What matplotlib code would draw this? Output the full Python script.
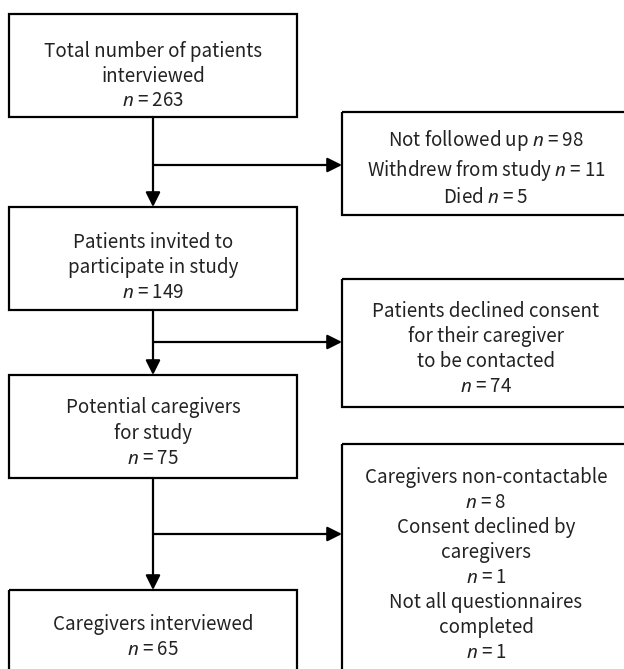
import matplotlib.pyplot as plt
from matplotlib.patches import Rectangle

plt.rcParams['font.family'] = ['Noto Sans CJK KR', 'DejaVu Sans']
plt.rcParams['mathtext.fontset'] = 'custom'
plt.rcParams['mathtext.it'] = 'Noto Sans:italic'
plt.rcParams['mathtext.rm'] = 'Noto Sans CJK KR'

# flow stages and their counts
stage_labels = ["Total number of patients\ninterviewed",
                "Patients invited to\nparticipate in study",
                "Potential caregivers\nfor study",
                "Caregivers interviewed"]
stage_n = [263, 149, 75, 65]

# exclusions between stages
excl_reasons = [
    ["Not followed up", "Withdrew from study", "Died"],
    ["Patients declined consent\nfor their caregiver\nto be contacted"],
    ["Caregivers non-contactable", "Consent declined by\ncaregivers",
     "Not all questionnaires\ncompleted"],
]
excl_n = [[98, 11, 5], [74], [8, 1, 1]]
excl_inline = [True, False, False]


def n_str(v):
    return r"$n$ = " + str(v)


fig = plt.figure(figsize=(6.24, 6.69), dpi=100)
ax = fig.add_axes([0, 0, 1, 1])
ax.set_xlim(0, 624)
ax.set_ylim(669, 0)
ax.axis('off')

# layout in pixel units
left_x0, left_x1 = 9, 297
left_top = [14, 207, 375, 590]
left_bot = [117, 310, 478, 720]
left_txt_y = [76, 267, 433, 637]
right_x0, right_x1 = 342, 630
right_top = [112, 279, 444]
right_bot = [215, 407, 720]
right_txt_y = [168, 349, 565]
branch_y = [165, 342, 534]
cx = (left_x0 + left_x1) / 2
rcx = (right_x0 + right_x1) / 2

fs = 13.5
lw = 1.6
txt_col = '#222222'

for i, lab in enumerate(stage_labels):
    ax.add_patch(Rectangle((left_x0, left_top[i]), left_x1 - left_x0,
                           left_bot[i] - left_top[i], fill=False, lw=lw, ec='black'))
    ax.text(cx, left_txt_y[i], lab + "\n" + n_str(stage_n[i]), ha='center', va='center',
            fontsize=fs, color=txt_col, linespacing=1.25)

for i in range(len(excl_reasons)):
    ax.add_patch(Rectangle((right_x0, right_top[i]), right_x1 - right_x0,
                           right_bot[i] - right_top[i], fill=False, lw=lw, ec='black',
                           clip_on=False))
    lines = []
    for r, v in zip(excl_reasons[i], excl_n[i]):
        if excl_inline[i]:
            lines.append(r + " " + n_str(v))
        else:
            lines.append(r + "\n" + n_str(v))
    ax.text(rcx, right_txt_y[i], "\n".join(lines), ha='center', va='center',
            fontsize=fs, color=txt_col, linespacing=1.25)

    # down arrow to next stage
    ax.annotate("", xy=(cx, left_top[i + 1]), xytext=(cx, left_bot[i]),
                arrowprops=dict(arrowstyle='-|>', color='black', lw=lw,
                                mutation_scale=22, shrinkA=0, shrinkB=0))
    # branch arrow to exclusion box
    ax.annotate("", xy=(right_x0, branch_y[i]), xytext=(cx, branch_y[i]),
                arrowprops=dict(arrowstyle='-|>', color='black', lw=lw,
                                mutation_scale=22, shrinkA=0, shrinkB=0))

fig.savefig("out.png", dpi=100)
